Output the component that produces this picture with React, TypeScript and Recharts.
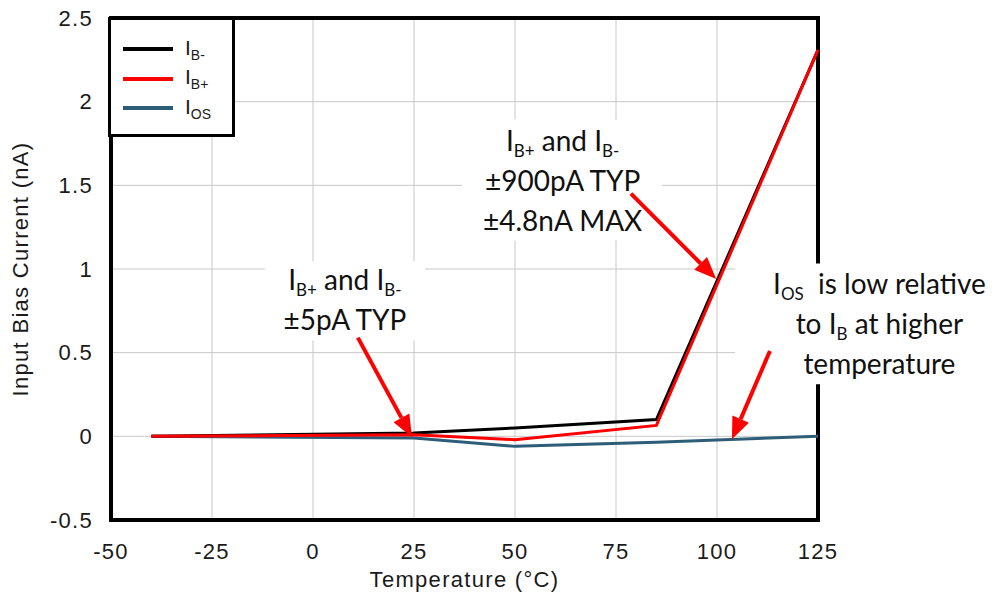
import React from "react";
import {
  LineChart,
  Line,
  XAxis,
  YAxis,
  CartesianGrid,
  ReferenceArea,
  ReferenceLine,
  ReferenceDot,
} from "recharts";

const temps = [-40, 25, 50, 85, 125];
const ibMinus = [0, 0.02, 0.05, 0.1, 2.31];
const ibPlus = [0, 0.01, -0.02, 0.065, 2.31];
const ios = [0, -0.01, -0.06, -0.035, 0];

const xTicks = [-50, -25, 0, 25, 50, 75, 100, 125];
const yTicks = [-0.5, 0, 0.5, 1, 1.5, 2, 2.5];

const seriesColors = { ibMinus: "#000000", ibPlus: "#ff0000", ios: "#2e5d78" };

// arrows in data units: [fromX, fromY, toX, toY]
const arrows = [
  [11.1, 0.59, 24.5, -0.005],
  [78.7, 1.45, 99.8, 0.94],
  [113.1, 0.51, 103.7, -0.018],
];

// annotation text blocks (data units): centre + white box behind them
const notes = [
  {
    x: 7.9,
    y: 0.81,
    box: [-11.9, 27.7, 0.573, 1.045],
    lines: [["I", "B+", " and I", "B-"], ["±5pA TYP"]],
  },
  {
    x: 61.8,
    y: 1.52,
    box: [36.9, 86.4, 1.171, 1.894],
    lines: [["I", "B+", " and I", "B-"], ["±900pA TYP"], ["±4.8nA MAX"]],
  },
  {
    x: 140.2,
    y: 0.665,
    box: [104.5, 170.5, 0.311, 1.033],
    lines: [["I", "OS", "  is low relative"], ["to I", "B", " at higher"], ["temperature"]],
  },
];

const data = temps.map((t, i) => ({
  t,
  ibMinus: ibMinus[i],
  ibPlus: ibPlus[i],
  ios: ios[i],
}));

const axisFont = "'Liberation Sans', Arial, sans-serif";
const tickFont = { fontFamily: axisFont, fontSize: 22, fill: "#1a1a1a", letterSpacing: 1.3 };
const noteFont = "Lato, 'Open Sans', sans-serif";
const LINE_H = 40;

const Arrow = (props: any) => {
  const { x1, y1, x2, y2 } = props;
  if ([x1, y1, x2, y2].some((v) => v === undefined || isNaN(v))) return null;
  const ang = Math.atan2(y2 - y1, x2 - x1);
  const len = 22;
  const w = 9;
  const bx = x2 - len * Math.cos(ang);
  const by = y2 - len * Math.sin(ang);
  const px = -Math.sin(ang) * w;
  const py = Math.cos(ang) * w;
  return (
    <g>
      <line x1={x1} y1={y1} x2={bx} y2={by} stroke="#ff0000" strokeWidth={4} />
      <polygon
        points={`${x2},${y2} ${bx + px},${by + py} ${bx - px},${by - py}`}
        fill="#ff0000"
      />
    </g>
  );
};

const makeNote = (note: any) => (props: any) => {
  const { cx, cy } = props;
  if (cx === undefined || cy === undefined) return null;
  const h = note.lines.length * LINE_H;
  const top = cy - h / 2;
  return (
    <g>
      {note.lines.map((parts: string[], i: number) => (
        <text
          key={i}
          x={cx}
          y={top + LINE_H * i + 29}
          textAnchor="middle"
          fontFamily={noteFont}
          fontSize={28}
          fill="#111"
          style={{ whiteSpace: "pre" }}
        >
          {parts.map((p, j) =>
            j % 2 === 1 ? (
              <tspan key={j} fontSize={17} dy={6}>
                {p}
              </tspan>
            ) : (
              <tspan key={j} dy={j === 0 ? 0 : -6}>
                {p}
              </tspan>
            )
          )}
        </text>
      ))}
    </g>
  );
};

const legendItems = [
  { c: seriesColors.ibMinus, s: "B-" },
  { c: seriesColors.ibPlus, s: "B+" },
  { c: seriesColors.ios, s: "OS" },
];

const LegendBox = () => (
  <div
    style={{
      position: "absolute",
      left: 108,
      top: 17,
      width: 127,
      height: 120,
      border: "3.5px solid #000",
      background: "#fff",
      boxSizing: "border-box",
      fontFamily: axisFont,
      fontSize: 21,
      color: "#1a1a1a",
    }}
  >
    {legendItems.map((it, i) => (
      <div
        key={it.s}
        style={{
          position: "absolute",
          left: 12,
          top: 15 + i * 29.5,
          height: 28,
          display: "flex",
          alignItems: "center",
        }}
      >
        <div style={{ width: 50, height: 4, background: it.c, marginRight: 12 }} />
        <span>
          I<span style={{ fontSize: 14, verticalAlign: -5 }}>{it.s}</span>
        </span>
      </div>
    ))}
  </div>
);

export default function App() {
  return (
    <div style={{ position: "absolute", left: 0, top: 0, width: 1002, height: 596, background: "#fff" }}>
      <LineChart
        width={1002}
        height={596}
        data={data}
        margin={{ top: 18, right: 184, bottom: 36, left: 41 }}
      >
        <CartesianGrid stroke="#c8c8c8" strokeWidth={1} />
        <XAxis
          dataKey="t"
          type="number"
          domain={[-50, 125]}
          ticks={xTicks}
          tickLine={false}
          axisLine={false}
          tick={tickFont}
          tickMargin={17}
          height={40}
          label={{
            value: "Temperature (°C)",
            position: "insideBottom",
            offset: -27,
            style: { ...tickFont, textAnchor: "middle" },
          }}
        />
        <YAxis
          type="number"
          domain={[-0.5, 2.5]}
          ticks={yTicks}
          tickLine={false}
          axisLine={false}
          tick={tickFont}
          tickMargin={12}
          width={70}
          label={{
            value: "Input Bias Current (nA)",
            angle: -90,
            position: "insideLeft",
            offset: -21,
            style: { ...tickFont, textAnchor: "middle" },
          }}
        />
        <Line dataKey="ios" stroke={seriesColors.ios} strokeWidth={3} dot={false} isAnimationActive={false} name="IOS" />
        <Line dataKey="ibMinus" stroke={seriesColors.ibMinus} strokeWidth={3} dot={false} isAnimationActive={false} name="IB-" />
        <Line dataKey="ibPlus" stroke={seriesColors.ibPlus} strokeWidth={3} dot={false} isAnimationActive={false} name="IB+" />
        <ReferenceArea
          x1={-50}
          x2={125}
          y1={-0.5}
          y2={2.5}
          fill="none"
          stroke="#000"
          strokeWidth={4}
          ifOverflow="visible"
        />
        {notes.map((n, i) => (
          <ReferenceArea
            key={`b${i}`}
            x1={n.box[0]}
            x2={n.box[1]}
            y1={n.box[2]}
            y2={n.box[3]}
            fill="#fff"
            fillOpacity={1}
            stroke="none"
            ifOverflow="visible"
          />
        ))}
        {arrows.map((a, i) => (
          <ReferenceLine
            key={`a${i}`}
            segment={[
              { x: a[0], y: a[1] },
              { x: a[2], y: a[3] },
            ]}
            ifOverflow="visible"
            shape={Arrow}
          />
        ))}
        {notes.map((n, i) => (
          <ReferenceDot key={`n${i}`} x={n.x} y={n.y} r={0} ifOverflow="visible" shape={makeNote(n)} />
        ))}
      </LineChart>
      <LegendBox />
    </div>
  );
}
